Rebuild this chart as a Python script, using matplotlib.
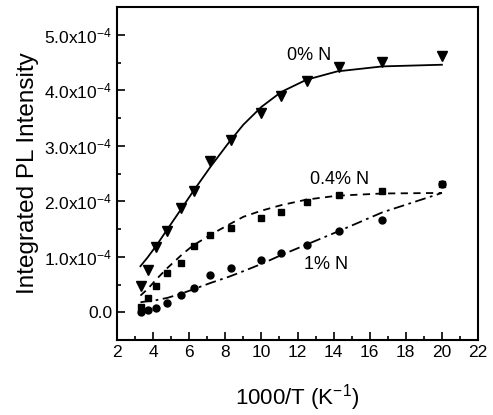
import matplotlib
matplotlib.use("Agg")
import matplotlib.pyplot as plt
from matplotlib.ticker import MultipleLocator, FixedLocator

plt.rcParams['font.family'] = ['Liberation Sans', 'DejaVu Sans']
plt.rcParams['mathtext.default'] = 'regular'

# data (intensity in units of 1e-4)
x_pts = [3.33, 3.70, 4.17, 4.76, 5.56, 6.25, 7.14, 8.33, 10.0, 11.1, 12.5, 14.3, 16.7, 20.0]
y_0N = [0.47, 0.77, 1.18, 1.47, 1.87, 2.18, 2.72, 3.10, 3.59, 3.89, 4.17, 4.42, 4.51, 4.61]
y_04N = [0.10, 0.26, 0.47, 0.70, 0.89, 1.19, 1.39, 1.51, 1.69, 1.80, 1.99, 2.11, 2.18, 2.32]
y_1N = [0.00, 0.04, 0.08, 0.17, 0.31, 0.43, 0.68, 0.80, 0.95, 1.07, 1.21, 1.46, 1.67, 2.32]

# fitted curves
x_fit = [3.3, 3.7, 4.2, 4.8, 5.6, 6.2, 7.2, 8.2, 9.0, 10.0, 11.1, 12.5, 14.2, 16.7, 20.0]
fit_0N = [0.83, 0.99, 1.21, 1.50, 1.88, 2.17, 2.63, 3.06, 3.38, 3.70, 3.97, 4.19, 4.34, 4.43, 4.46]
fit_04N = [0.30, 0.42, 0.60, 0.80, 1.04, 1.20, 1.40, 1.58, 1.72, 1.83, 1.93, 2.03, 2.10, 2.14, 2.15]
fit_1N = [0.18, 0.20, 0.22, 0.26, 0.34, 0.41, 0.53, 0.64, 0.74, 0.87, 1.03, 1.22, 1.45, 1.80, 2.15]

labels = ["0% N", "0.4% N", "1% N"]
y_ticks = [0.0, 1.0, 2.0, 3.0, 4.0, 5.0]
y_tick_labels = ["0.0", "1.0x10$^{-4}$", "2.0x10$^{-4}$", "3.0x10$^{-4}$",
                 "4.0x10$^{-4}$", "5.0x10$^{-4}$"]
x_ticks = [2, 4, 6, 8, 10, 12, 14, 16, 18, 20, 22]

fig = plt.figure(figsize=(4.93, 4.15), dpi=100)
ax = fig.add_axes([0.2373, 0.1807, 0.7323, 0.8024])

ax.plot(x_fit, fit_0N, '-', color='black', lw=1.3)
ax.plot(x_fit, fit_04N, color='black', lw=1.3, dashes=(4, 3))
ax.plot(x_fit, fit_1N, color='black', lw=1.3, dashes=(6, 2.5, 1.5, 2.5))

ax.plot(x_pts, y_0N, 'v', color='black', ms=6.5, ls='none')
ax.plot(x_pts, y_04N, 's', color='black', ms=4.5, ls='none')
ax.plot(x_pts, y_1N, 'o', color='black', ms=5, ls='none')

ax.text(12.67, 4.62, labels[0], fontsize=13, ha='center', va='center')
ax.text(14.33, 2.40, labels[1], fontsize=13, ha='center', va='center')
ax.text(13.56, 0.86, labels[2], fontsize=13, ha='center', va='center')

ax.set_xlim(2, 22)
ax.set_ylim(-0.5, 5.5)
ax.xaxis.set_major_locator(FixedLocator(x_ticks))
ax.xaxis.set_minor_locator(MultipleLocator(1))
ax.yaxis.set_major_locator(FixedLocator(y_ticks))
ax.yaxis.set_minor_locator(MultipleLocator(0.5))
ax.set_yticklabels(y_tick_labels)
ax.tick_params(which='both', direction='in', labelsize=12.5, width=1.2)
ax.tick_params(which='major', length=6)
ax.tick_params(which='minor', length=3)
for s in ax.spines.values():
    s.set_linewidth(1.5)

ax.set_xlabel("1000/T (K$^{-1}$)", fontsize=16, labelpad=16)
ax.set_ylabel("Integrated PL Intensity", fontsize=17.5, labelpad=4)

fig.savefig("out.png", dpi=100)
